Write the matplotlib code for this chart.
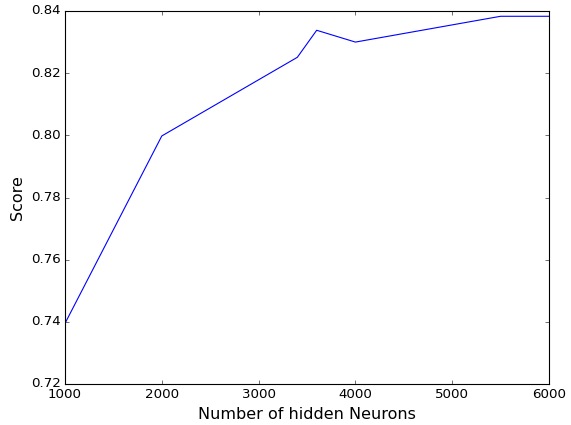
import matplotlib
matplotlib.use('Agg')
import matplotlib.pyplot as plt

plt.style.use('classic')

# number of hidden neurons vs score
neurons = [1000, 2000, 3400, 3600, 4000, 5500, 6000]
scores = [0.7395, 0.7998, 0.8251, 0.8338, 0.8300, 0.8383, 0.8383]

W, H = 571, 425
DPI = 80
fig = plt.figure(figsize=(W/DPI, H/DPI), dpi=DPI, facecolor='white')
ax = fig.add_axes([65/W, 1 - 384/H, (549-65)/W, (384-11)/H])
ax.plot(neurons, scores, 'b')
ax.set_xlim(1000, 6000)
ax.set_ylim(0.72, 0.84)
ax.set_xlabel('Number of hidden Neurons', fontsize='large')
ax.set_ylabel('Score', fontsize='large')

fig.savefig('out.png', dpi=DPI, facecolor='white')
